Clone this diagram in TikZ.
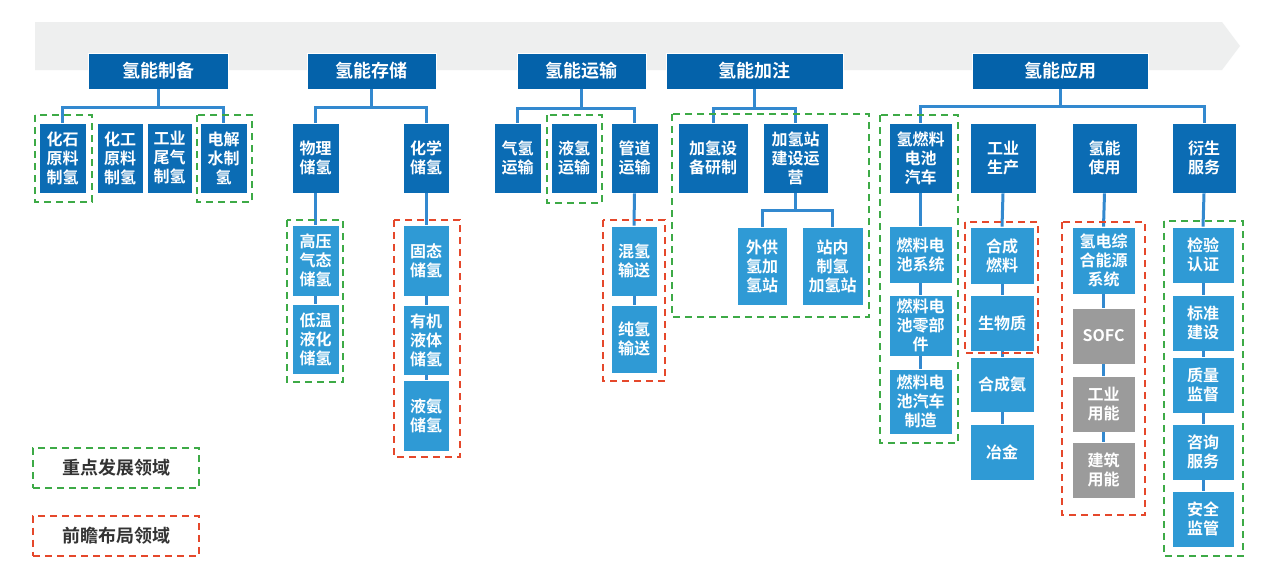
\documentclass[tikz,border=0pt]{standalone}
\usepackage{fontspec}
\setmainfont{Noto Sans CJK SC}[BoldFont={Noto Sans CJK SC Bold}]
\definecolor{hdrblue}{HTML}{0462AA}
\definecolor{midblue}{HTML}{0B6CB4}
\definecolor{lightblue}{HTML}{2F9AD5}
\definecolor{boxgray}{HTML}{9B9B9B}
\definecolor{connblue}{HTML}{3389CF}
\definecolor{bandgray}{HTML}{EEEFEF}
\definecolor{dashgreen}{HTML}{3DAA46}
\definecolor{dashred}{HTML}{E5482B}
\definecolor{legtext}{HTML}{333333}
\tikzset{
  boxbase/.style={draw=white,line width=0.6pt,text=white,inner sep=0pt,align=center,
    font=\bfseries\fontsize{16}{19}\selectfont},
  hdr/.style={boxbase,fill=hdrblue,font=\bfseries\fontsize{18}{22}\selectfont},
  lvtwo/.style={boxbase,fill=midblue},
  lvthree/.style={boxbase,fill=lightblue},
  lvgray/.style={boxbase,fill=boxgray},
  conn/.style={draw=connblue,line width=3pt},
  gdash/.style={draw=dashgreen,line width=2pt,dash pattern=on 7pt off 5pt},
  rdash/.style={draw=dashred,line width=2pt,dash pattern=on 7pt off 5pt},
  legnode/.style={inner sep=0pt,minimum width=166pt,minimum height=40pt,text=legtext,
    font=\bfseries\fontsize{18}{22}\selectfont},
}
\newcommand\mybox[7]{%
  \pgfmathsetmacro\bxw{#4-#2}\pgfmathsetmacro\bxh{#5-#3}%
  \pgfmathsetmacro\bxx{(#2+#4)/2}\pgfmathsetmacro\bxy{(#3+#5)/2}%
  \node[#6,minimum width=\bxw pt,minimum height=\bxh pt] (#1) at (\bxx,\bxy) {#7};}
\begin{document}
\begin{tikzpicture}[x=1pt,y=-1pt]
\useasboundingbox (0,0) rectangle (1280,576);
\fill[white] (0,0) rectangle (1280,576);
% band arrow
\fill[bandgray] (35,22) -- (1222,22) -- (1240,46) -- (1222,70) -- (35,70) -- cycle;

% headers
\mybox{H1}{88}{53}{228}{89}{hdr}{氢能制备}
\mybox{H2}{307}{53}{436}{89}{hdr}{氢能存储}
\mybox{H3}{517}{53}{646}{89}{hdr}{氢能运输}
\mybox{H4}{666}{53}{843}{89}{hdr}{氢能加注}
\mybox{H5}{972}{53}{1148}{89}{hdr}{氢能应用}

% junction coordinates
\coordinate (j1) at (158,107);
\coordinate (j2) at (371.5,107);
\coordinate (j3) at (581.5,108);
\coordinate (j4) at (754.5,108);
\coordinate (j5) at (795.5,210);
\coordinate (j6) at (1060,106);

% level 2 / 3 boxes
\mybox{a1}{39}{123}{86}{193}{lvtwo}{化石\\原料\\制氢}
\mybox{a2}{97}{123}{143}{193}{lvtwo}{化工\\原料\\制氢}
\mybox{a3}{147}{123}{192}{193}{lvtwo}{工业\\尾气\\制氢}
\mybox{a4}{200}{123}{247}{193}{lvtwo}{电解\\水制\\氢}

\mybox{b1}{292}{123}{339}{193}{lvtwo}{物理\\储氢}
\mybox{b2}{403}{123}{449}{193}{lvtwo}{化学\\储氢}
\mybox{b11}{292}{225}{339}{296}{lvthree}{高压\\气态\\储氢}
\mybox{b12}{292}{304}{339}{374}{lvthree}{低温\\液化\\储氢}
\mybox{b21}{403}{225}{449}{296}{lvthree}{固态\\储氢}
\mybox{b22}{403}{305}{449}{375}{lvthree}{有机\\液体\\储氢}
\mybox{b23}{403}{380}{449}{451}{lvthree}{液氨\\储氢}

\mybox{c1}{494}{123}{541}{193}{lvtwo}{气氢\\运输}
\mybox{c2}{551}{123}{597}{193}{lvtwo}{液氢\\运输}
\mybox{c3}{611}{123}{658}{193}{lvtwo}{管道\\运输}
\mybox{c31}{611}{226}{657}{296}{lvthree}{混氢\\输送}
\mybox{c32}{611}{305}{657}{373}{lvthree}{纯氢\\输送}

\mybox{d1}{678}{123}{748}{193}{lvtwo}{加氢设\\备研制}
\mybox{d2}{763}{123}{828}{193}{lvtwo}{加氢站\\建设运\\营}
\mybox{d21}{737}{227}{787}{305}{lvthree}{外供\\氢加\\氢站}
\mybox{d22}{802}{227}{863}{305}{lvthree}{站内\\制氢\\加氢站}

\mybox{e1}{889}{123}{952}{193}{lvtwo}{氢燃料\\电池\\汽车}
\mybox{e2}{970}{123}{1036}{193}{lvtwo}{工业\\生产}
\mybox{e3}{1072}{123}{1137}{193}{lvtwo}{氢能\\使用}
\mybox{e4}{1172}{123}{1236}{193}{lvtwo}{衍生\\服务}

\mybox{e11}{889}{226}{952}{283}{lvthree}{燃料电\\池系统}
\mybox{e12}{889}{295}{952}{356}{lvthree}{燃料电\\池零部\\件}
\mybox{e13}{889}{369}{952}{434}{lvthree}{燃料电\\池汽车\\制造}

\mybox{e21}{970}{227}{1034}{284}{lvthree}{合成\\燃料}
\mybox{e22}{970}{295}{1034}{351}{lvthree}{生物质}
\mybox{e23}{970}{357}{1034}{412}{lvthree}{合成氨}
\mybox{e24}{970}{424}{1034}{480}{lvthree}{冶金}

\mybox{e31}{1072}{227}{1135}{294}{lvthree}{氢电综\\合能源\\系统}
\mybox{e32}{1072}{308}{1135}{364}{lvgray}{SOFC}
\mybox{e33}{1072}{376}{1135}{432}{lvgray}{工业\\用能}
\mybox{e34}{1072}{442}{1135}{498}{lvgray}{建筑\\用能}

\mybox{e41}{1172}{227}{1234}{283}{lvthree}{检验\\认证}
\mybox{e42}{1172}{295}{1234}{351}{lvthree}{标准\\建设}
\mybox{e43}{1172}{357}{1234}{413}{lvthree}{质量\\监督}
\mybox{e44}{1172}{424}{1234}{480}{lvthree}{咨询\\服务}
\mybox{e45}{1172}{491}{1234}{547}{lvthree}{安全\\监管}

% connectors
\begin{scope}[on background layer/.style={}]
\draw[conn] (H1.south) -- (j1);
\draw[conn] (a1.north) |- (j1) -| (a4.north);
\draw[conn] (H2.south) -- (j2);
\draw[conn] (b1.north) |- (j2) -| (b2.north);
\draw[conn] (b1.south) -- (b11.north);
\draw[conn] (b11.south) -- (b12.north);
\draw[conn] (b2.south) -- (b21.north);
\draw[conn] (b21.south) -- (b22.north);
\draw[conn] (b22.south) -- (b23.north);
\draw[conn] (H3.south) -- (j3);
\draw[conn] (c1.north) |- (j3) -| (c3.north);
\draw[conn] (c3.south) -- (c31.north);
\draw[conn] (c31.south) -- (c32.north);
\draw[conn] (H4.south) -- (j4);
\draw[conn] (d1.north) |- (j4) -| (d2.north);
\draw[conn] (d2.south) -- (j5);
\draw[conn] (d21.north) |- (j5) -| (d22.north);
\draw[conn] (H5.south) -- (j6);
\draw[conn] (e1.north) |- (j6) -| (e4.north);
\draw[conn] (e1.south) -- (e11.north);
\draw[conn] (e11.south) -- (e12.north);
\draw[conn] (e12.south) -- (e13.north);
\draw[conn] (e2.south) -- (e21.north);
\draw[conn] (e21.south) -- (e22.north);
\draw[conn] (e22.south) -- (e23.north);
\draw[conn] (e23.south) -- (e24.north);
\draw[conn] (e3.south) -- (e31.north);
\draw[conn] (e31.south) -- (e32.north);
\draw[conn] (e32.south) -- (e33.north);
\draw[conn] (e33.south) -- (e34.north);
\draw[conn] (e4.south) -- (e41.north);
\draw[conn] (e41.south) -- (e42.north);
\draw[conn] (e42.south) -- (e43.north);
\draw[conn] (e43.south) -- (e44.north);
\draw[conn] (e44.south) -- (e45.north);
\end{scope}

% dashed groups
\draw[gdash] (35,115) rectangle (92,202);
\draw[gdash] (197,115) rectangle (252,202);
\draw[gdash] (287,220) rectangle (343,382);
\draw[gdash] (547,115) rectangle (602,203);
\draw[gdash] (672,114) rectangle (869,317);
\draw[gdash] (880,115) rectangle (958,443);
\draw[gdash] (1164,221) rectangle (1243,556);
\draw[rdash] (394,220) rectangle (460,457);
\draw[rdash] (603,220) rectangle (665,381);
\draw[rdash] (965,222) rectangle (1038,353);
\draw[rdash] (1062,222) rectangle (1145,515);

% legend
\node[legnode,gdash] (lg1) at (116,468) {重点发展领域};
\node[legnode,rdash] (lg2) at (116,535.5) {前瞻布局领域};
\end{tikzpicture}
\end{document}
